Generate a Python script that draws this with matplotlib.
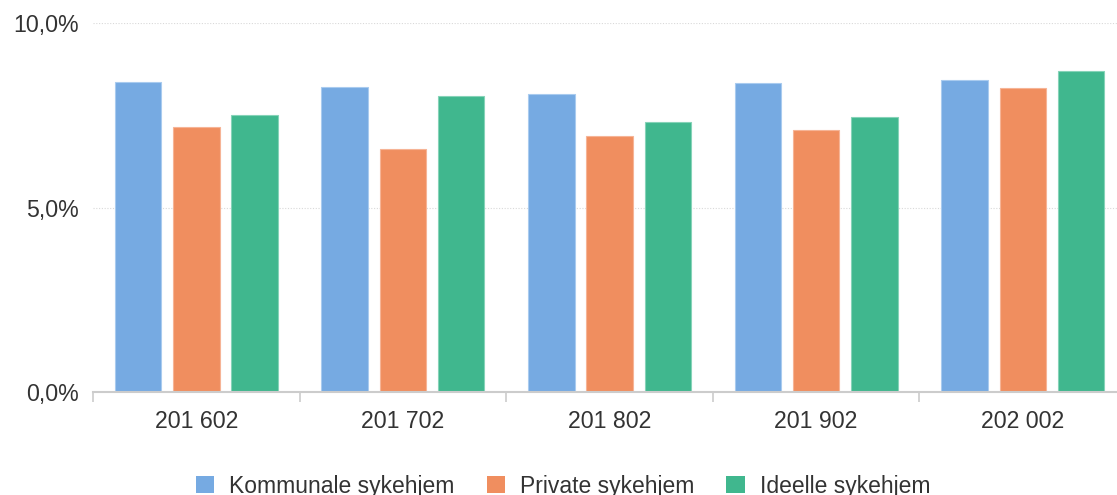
import numpy as np
import matplotlib
matplotlib.use("Agg")
import matplotlib.pyplot as plt
from matplotlib.ticker import FuncFormatter

# data
periods = ["201 602", "201 702", "201 802", "201 902", "202 002"]
kommunale = [8.39, 8.27, 8.07, 8.37, 8.46]
private = [7.18, 6.59, 6.93, 7.10, 8.24]
ideelle = [7.51, 8.01, 7.31, 7.44, 8.69]
series_names = ["Kommunale sykehjem", "Private sykehjem", "Ideelle sykehjem"]
y_ticks = [0, 5, 10]

colors = ["#76aae2", "#f08e5f", "#40b78e"]
edges = ["#a9cbef", "#f6b496", "#86d3b8"]

plt.rcParams['font.family'] = ['Liberation Sans', 'DejaVu Sans']

fig = plt.figure(figsize=(11.17, 4.95), dpi=100)
ax = fig.add_axes([93/1117, 1-392/495, 1-93/1117, (392-23)/495])

x = np.arange(len(periods))
offs = [-0.282, 0.0, 0.282]
w = 0.225
for vals, off, c, ec, name in zip([kommunale, private, ideelle], offs, colors, edges, series_names):
    ax.bar(x + off, vals, width=w, color=c, edgecolor=ec, linewidth=0.8, label=name, zorder=3)

ax.set_yticks(y_ticks)
ax.yaxis.set_major_formatter(FuncFormatter(lambda v, p: f"{v:.1f}".replace(".", ",") + "%"))
ax.grid(axis='y', linestyle=(0, (1, 1.5)), color="#d9d9d9", linewidth=0.8, zorder=0)

ax.set_xticks(x)
ax.set_xticklabels(periods)
ax.set_xticks(np.arange(-0.5, 4.0, 1.0), minor=True)
ax.tick_params(axis='x', which='major', length=0, pad=13, labelsize=16.7, labelcolor="#333333")
ax.tick_params(axis='x', which='minor', length=7, width=1.2, color="#cccccc")
ax.tick_params(axis='y', length=0, pad=10, labelsize=16.7, labelcolor="#333333")
ax.set_ylim(0, 10)
ax.set_xlim(-0.5, 4.456)

for s in ['top', 'right', 'left']:
    ax.spines[s].set_visible(False)
ax.spines['bottom'].set_color("#cccccc")
ax.spines['bottom'].set_linewidth(1.5)
ax.spines['bottom'].set_zorder(4)

leg = fig.legend(loc='center', bbox_to_anchor=(563/1117, 1-486/495), ncol=3, frameon=False,
                 fontsize=16.5, handlelength=0.8, handleheight=0.8, handletextpad=0.65,
                 columnspacing=1.4, labelcolor="#333333")
for h in leg.legend_handles:
    h.set_edgecolor("none")

fig.savefig("out.png", dpi=100)
